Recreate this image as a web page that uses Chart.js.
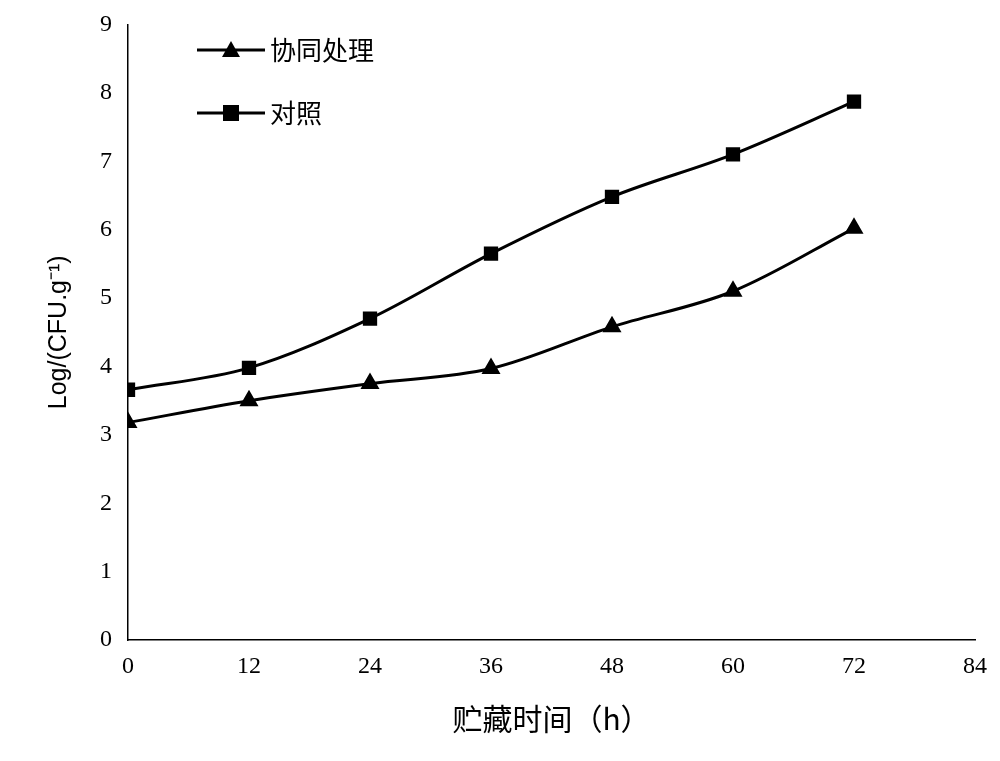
<!DOCTYPE html>
<html><head><meta charset="utf-8">
<script src="https://cdn.jsdelivr.net/npm/chart.js@4"></script>
<style>html,body{margin:0;background:#fff}#w{width:1000px;height:761px}</style>
</head><body><div id="w"><canvas id="c"></canvas></div>
<script>
const hours=[0,12,24,36,48,60,72];
const treated=[3.18,3.5,3.75,3.97,4.58,5.1,6.02];
const control=[3.66,3.98,4.7,5.65,6.48,7.1,7.87];
const seriesNames=['协同处理','对照'];
const xTicks=[0,12,24,36,48,60,72,84];
const legendPlugin={id:'lg',afterDraw(ch){
  const c=ch.ctx;c.save();
  const items=[[seriesNames[0],'triangle',50],[seriesNames[1],'rect',113]];
  items.forEach(([t,s,y])=>{
    c.strokeStyle='#000';c.lineWidth=3;c.beginPath();c.moveTo(197,y);c.lineTo(265,y);c.stroke();
    c.fillStyle='#000';c.beginPath();
    if(s==='rect'){c.fillRect(223,y-8,16,16);}else{c.moveTo(231,y-9);c.lineTo(240,y+7);c.lineTo(222,y+7);c.closePath();c.fill();}
    c.font='26px "Noto Sans CJK SC"';c.textBaseline='middle';c.fillText(t,270,y);
  });c.restore();}};
new Chart(document.getElementById('c'),{type:'line',
data:{datasets:[
 {label:seriesNames[0],data:hours.map((h,i)=>({x:h,y:treated[i]})),borderColor:'#000',backgroundColor:'#000',borderWidth:3,pointStyle:'triangle',pointRadius:8,tension:0.35,cubicInterpolationMode:'monotone'},
 {label:seriesNames[1],data:hours.map((h,i)=>({x:h,y:control[i]})),borderColor:'#000',backgroundColor:'#000',borderWidth:3,pointStyle:'rect',pointRadius:8,tension:0.35,cubicInterpolationMode:'monotone'}]},
options:{responsive:true,maintainAspectRatio:false,animation:false,
 layout:{padding:{top:8,right:25,left:40,bottom:20}},
 plugins:{legend:{display:false},tooltip:{enabled:false}},
 scales:{
  x:{type:'linear',min:0,max:84,afterBuildTicks:a=>{a.ticks=xTicks.map(v=>({value:v}))},
   grid:{display:false,drawTicks:true,tickLength:6,color:'#000'},border:{color:'#000',width:1.5},
   ticks:{color:'#000',font:{family:'Liberation Serif',size:24},maxRotation:0,padding:6},
   title:{display:true,text:'贮藏时间（h）',color:'#000',font:{family:'Noto Sans CJK SC',size:30},padding:{top:14}}},
  y:{min:0,max:9,ticks:{stepSize:1,color:'#000',font:{family:'Liberation Serif',size:24},padding:10},
   grid:{display:false,tickLength:6},border:{color:'#000',width:1.5},
   title:{display:true,text:'Log/(CFU.g⁻¹)',color:'#000',font:{family:'Liberation Sans',size:25},padding:{bottom:16}}}}},
plugins:[legendPlugin]});
</script></body></html>
